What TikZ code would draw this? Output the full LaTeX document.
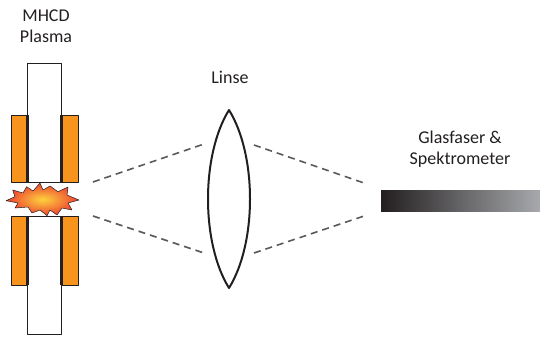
\documentclass[tikz,border=0pt]{standalone}
\usepackage{fontspec}
\setmainfont{Carlito}
\definecolor{elecOrange}{HTML}{F7941D}
\definecolor{sparkYellow}{HTML}{FDD23E}
\definecolor{sparkRed}{HTML}{EE4030}
\definecolor{rayGray}{HTML}{5A5A5A}
\definecolor{inkDark}{HTML}{231F20}
\definecolor{fibreLight}{HTML}{A7A9AC}

\begin{document}
\begin{tikzpicture}[x=1pt, y=-1pt, line join=round,
  lbl/.style={font=\fontsize{18}{21}\selectfont, text=inkDark, inner sep=0pt, align=center},
  ray/.style={rayGray, line width=1.6pt, dash pattern=on 7pt off 5pt},
  tube/.style={draw=inkDark, fill=white, line width=0.8pt},
  electrode/.style={draw=inkDark, fill=elecOrange, line width=0.6pt},
  contact/.style={inkDark, line width=2.6pt},
  lens/.style={inkDark, line width=2pt}]
  \useasboundingbox (0,0) rectangle (540,338);
  % Discharge tube, upper and lower half
  \draw[tube] (27.7,63) rectangle (61.7,182);
  \draw[tube] (27.7,216) rectangle (61.7,334);
  % Electrodes with their contact edges
  \foreach \ya/\yb in {115/182, 216/285} {
    \draw[electrode] (11,\ya) rectangle (27.7,\yb);
    \draw[electrode] (61.7,\ya) rectangle (78,\yb);
    \draw[contact] (27.7,\ya) -- (27.7,\yb);
    \draw[contact] (61.7,\ya) -- (61.7,\yb);
  }
  % Plasma spark
  \shade[inner color=sparkYellow, outer color=sparkRed, draw=inkDark, line width=0.5pt]
    (6,200.7) -- (15,196.7) -- (12.7,190) -- (23,193) -- (26.7,186.7) -- (33,191)
    -- (40,183) -- (43,190) -- (50,186) -- (58,191.7) -- (68,187) -- (67,195)
    -- (79,200) -- (68,203) -- (72,210) -- (62,208) -- (57,215) -- (50,210)
    -- (47,215.7) -- (40,210) -- (32,213) -- (28,207) -- (15,208) -- (18,203) -- cycle;
  \node[lbl, anchor=north] (mhcd) at (46,10) {MHCD\\Plasma};
  % Lens
  \coordinate (lensTop) at (229,110);
  \coordinate (lensBot) at (229,288);
  \draw[lens] (lensTop) .. controls (201,155) and (201,243) .. (lensBot)
    .. controls (257,243) and (257,155) .. (lensTop) -- cycle;
  \node[lbl, anchor=base] (linse) at (230,83) {Linse};
  % Fibre
  \node[anchor=north west, minimum width=159pt, minimum height=21.7pt, inner sep=0pt,
    left color=inkDark, right color=fibreLight] (fibre) at (381,190) {};
  \node[lbl, anchor=north] (fibretxt) at (460,131) {Glasfaser \&\\Spektrometer};
  % Light path
  \coordinate (srcU) at (93,182);  \coordinate (srcD) at (93,216);
  \coordinate (inU) at (204,144);  \coordinate (inD) at (204,253);
  \coordinate (outU) at (254,145); \coordinate (outD) at (254,253);
  \coordinate (fibU) at (364,183); \coordinate (fibD) at (364,216);
  \draw[ray] (srcU) -- (inU);
  \draw[ray] (srcD) -- (inD);
  \draw[ray] (outU) -- (fibU);
  \draw[ray] (outD) -- (fibD);
\end{tikzpicture}
\end{document}
